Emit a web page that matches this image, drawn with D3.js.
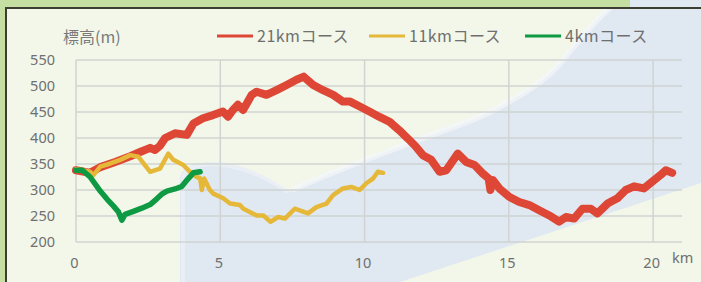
<!DOCTYPE html>
<html>
<head>
<meta charset="utf-8">
<script src="https://cdn.jsdelivr.net/npm/d3@7"></script>
<style>
  body { margin: 0; background: #f2f7ea; }
  svg { display: block; }
</style>
</head>
<body>
<div id="chart"></div>
<script>
// course data: distance (km) and elevation (m)
const km21 = [0, 0.49, 0.84, 1.36, 1.88, 2.22, 2.57, 2.74, 2.91, 3.09, 3.43, 3.84, 4.07, 4.40, 4.75, 5.09, 5.27, 5.44, 5.61, 5.79, 6.09, 6.26, 6.60, 6.95, 7.30, 7.64, 7.89, 8.22, 8.56, 8.91, 9.25, 9.50, 9.85, 10.20, 10.50, 10.87, 11.20, 11.50, 11.75, 12.02, 12.31, 12.60, 12.83, 13.23, 13.52, 13.81, 14.09, 14.30, 14.36, 14.45, 14.67, 15.01, 15.36, 15.71, 16.05, 16.40, 16.74, 16.98, 17.26, 17.55, 17.84, 18.07, 18.42, 18.76, 19.05, 19.34, 19.68, 19.97, 20.26, 20.44, 20.66];
const elev21 = [338, 333, 344, 354, 365, 373, 381, 377, 385, 400, 409, 406, 428, 438, 444, 451, 441, 454, 464, 454, 483, 489, 483, 492, 502, 512, 518, 502, 492, 483, 470, 470, 460, 450, 441, 431, 415, 399, 385, 367, 358, 335, 338, 370, 354, 348, 332, 322, 300, 319, 303, 287, 277, 271, 261, 251, 239, 248, 245, 264, 264, 255, 274, 284, 300, 307, 303, 316, 329, 338, 333];

const km11 = [0, 0.49, 0.61, 0.84, 1.19, 1.53, 1.88, 2.16, 2.34, 2.57, 2.91, 3.20, 3.37, 3.72, 3.95, 4.18, 4.30, 4.36, 4.44, 4.64, 4.76, 5.10, 5.34, 5.68, 5.80, 6.26, 6.49, 6.74, 7.01, 7.24, 7.58, 7.75, 8.04, 8.33, 8.68, 8.91, 9.25, 9.54, 9.83, 10.06, 10.29, 10.46, 10.64];
const elev11 = [340, 335, 329, 345, 351, 358, 367, 364, 351, 335, 341, 370, 358, 348, 335, 325, 323, 300, 322, 300, 293, 284, 274, 271, 264, 251, 251, 239, 248, 245, 264, 261, 255, 267, 274, 290, 303, 306, 300, 313, 322, 335, 333];

const km4 = [0, 0.22, 0.49, 0.84, 1.08, 1.30, 1.47, 1.59, 1.70, 1.99, 2.28, 2.57, 2.80, 2.97, 3.15, 3.43, 3.67, 3.89, 4.07, 4.30];
const elev4 = [338, 338, 325, 298, 282, 269, 258, 242, 253, 259, 265, 272, 283, 292, 298, 302, 307, 322, 333, 335];

const courseNames = ["21kmコース", "11kmコース", "4kmコース"];
const yTicks = [200, 250, 300, 350, 400, 450, 500, 550];
const xTicks = [0, 5, 10, 15, 20];

const width = 701, height = 282;
const margin = { top: 60, right: 19, bottom: 40, left: 76 };

const svg = d3
  .select("#chart")
  .append("svg")
  .attr("width", width)
  .attr("height", height)
  .style("font-family", "'Noto Sans CJK JP', 'Noto Sans', sans-serif");

// background + decorative photo band
svg.append("rect").attr("width", width).attr("height", height).attr("fill", "#f2f7ea");
svg
  .append("path")
  .attr("d", "M180,282 L180,178 Q182,163 212,162 Q250,163 290,192 C330,172 380,155 417,140 C450,128 470,122 490,112 C520,96 545,82 563,60 C580,38 598,18 614,4 L620,0 L701,0 L701,183 L400,282 Z")
  .attr("fill", "#e0e8f1");
svg
  .append("path")
  .attr("d", "M292,190 C330,172 380,155 417,140 C450,128 470,122 490,112 C520,96 545,82 563,60 C580,38 598,18 614,4")
  .attr("fill", "none")
  .attr("stroke", "#f4f7fa")
  .attr("stroke-width", 6)
  .attr("opacity", 0.7);
svg
  .append("path")
  .attr("d", "M183,282 L183,178 Q185,165 212,164 Q248,165 288,192")
  .attr("fill", "none")
  .attr("stroke", "#eef2f7")
  .attr("stroke-width", 4)
  .attr("opacity", 0.7);

// frame
svg.append("rect").attr("x", 0).attr("y", 0).attr("width", 630).attr("height", 8).attr("fill", "#c5dfa3");
svg.append("rect").attr("x", 0).attr("y", 0).attr("width", 6).attr("height", height).attr("fill", "#c5dfa3");
svg.append("rect").attr("x", 6).attr("y", 7).attr("width", width - 6).attr("height", 2).attr("fill", "#3d3d33");
svg.append("rect").attr("x", 5).attr("y", 7).attr("width", 2).attr("height", height).attr("fill", "#3d3d33");

const x = d3.scaleLinear().domain([0, 21]).range([margin.left, width - margin.right]);
const y = d3.scaleLinear().domain([200, 550]).range([height - margin.bottom, margin.top]);

// grid
const grid = svg.append("g");
grid
  .selectAll(".hgrid")
  .data(yTicks)
  .enter()
  .append("line")
  .attr("x1", x(0))
  .attr("x2", x(21))
  .attr("y1", (d) => y(d))
  .attr("y2", (d) => y(d))
  .attr("stroke", "#cfd4d2")
  .attr("stroke-width", 1.5);
grid
  .selectAll(".vgrid")
  .data(xTicks)
  .enter()
  .append("line")
  .attr("x1", (d) => x(d))
  .attr("x2", (d) => x(d))
  .attr("y1", y(550))
  .attr("y2", y(200))
  .attr("stroke", "#cfd4d2")
  .attr("stroke-width", 1.5);

// axes labels
const yAxis = d3.axisLeft(y).tickValues(yTicks).tickSize(0).tickPadding(21);
svg
  .append("g")
  .attr("transform", `translate(${x(0)},0)`)
  .call(yAxis)
  .call((g) => g.select(".domain").remove())
  .selectAll("text")
  .attr("fill", "#6f6f6f")
  .style("font-size", "14.5px")
  .style("font-family", "'Noto Sans', sans-serif");

const xAxis = d3.axisBottom(x).tickValues(xTicks).tickSize(0).tickPadding(16);
svg
  .append("g")
  .attr("transform", `translate(-2,${y(200)})`)
  .call(xAxis)
  .call((g) => g.select(".domain").remove())
  .selectAll("text")
  .attr("fill", "#6f6f6f")
  .style("font-size", "14.5px")
  .style("font-family", "'Noto Sans', sans-serif");

svg
  .append("text")
  .attr("x", 672)
  .attr("y", 263)
  .attr("fill", "#6f6f6f")
  .style("font-size", "14.5px")
  .style("font-family", "'Noto Sans', sans-serif")
  .text("km");

svg
  .append("text")
  .attr("x", 63)
  .attr("y", 43)
  .attr("fill", "#7a7a7a")
  .style("font-size", "16px")
  .text("標高(m)");

// lines
const courses = [
  { km: km21, elev: elev21, color: "#de4636", w: 8 },
  { km: km11, elev: elev11, color: "#e6b83a", w: 4.5 },
  { km: km4, elev: elev4, color: "#0d9a42", w: 5.5 },
];

const line = d3
  .line()
  .x((d) => x(d[0]))
  .y((d) => y(d[1]));

courses.forEach((c) => {
  svg
    .append("path")
    .datum(d3.zip(c.km, c.elev))
    .attr("d", line)
    .attr("fill", "none")
    .attr("stroke", c.color)
    .attr("stroke-width", c.w)
    .attr("stroke-linejoin", "round")
    .attr("stroke-linecap", "round");
});

// legend
const legendX = [217, 369, 525];
const legend = svg.append("g");
courses.forEach((c, i) => {
  legend
    .append("line")
    .attr("x1", legendX[i])
    .attr("x2", legendX[i] + 36)
    .attr("y1", 36)
    .attr("y2", 36)
    .attr("stroke", c.color)
    .attr("stroke-width", 3);
  legend
    .append("text")
    .attr("x", legendX[i] + 40)
    .attr("y", 42)
    .attr("fill", "#6f6f6f")
    .style("font-size", "16px")
    .style("letter-spacing", "0.5px")
    .text(courseNames[i]);
});
</script>
</body>
</html>
